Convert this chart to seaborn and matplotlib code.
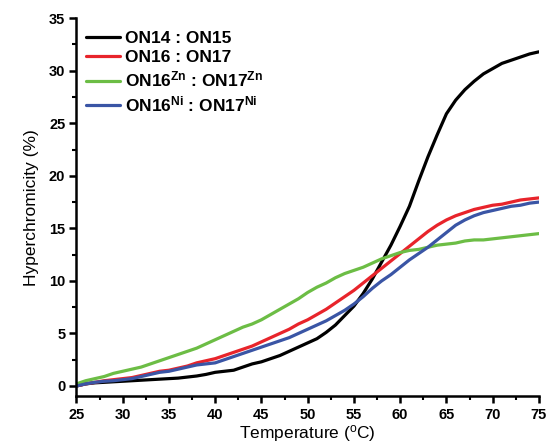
import numpy as np
import pandas as pd
import matplotlib
matplotlib.use("Agg")
import matplotlib.pyplot as plt
from matplotlib.ticker import MultipleLocator
import seaborn as sns

temperature = list(range(25, 76))

on14_on15 = [0.0, 0.2, 0.3, 0.35, 0.4, 0.45, 0.5, 0.55, 0.6, 0.65,
             0.7, 0.75, 0.85, 0.95, 1.1, 1.3, 1.4, 1.5, 1.8, 2.1,
             2.3, 2.6, 2.9, 3.3, 3.7, 4.1, 4.5, 5.1, 5.8, 6.7,
             7.6, 8.8, 10.2, 11.8, 13.4, 15.2, 17.1, 19.5, 21.8, 23.9,
             25.9, 27.2, 28.2, 29.0, 29.7, 30.2, 30.7, 31.0, 31.3, 31.6,
             31.8]
on16_on17 = [0.0, 0.2, 0.35, 0.5, 0.6, 0.7, 0.8, 1.0, 1.2, 1.4,
             1.5, 1.7, 1.9, 2.2, 2.4, 2.6, 2.9, 3.2, 3.5, 3.8,
             4.2, 4.6, 5.0, 5.4, 5.9, 6.3, 6.8, 7.3, 7.9, 8.5,
             9.1, 9.8, 10.5, 11.2, 11.9, 12.6, 13.3, 14.0, 14.7, 15.3,
             15.8, 16.2, 16.5, 16.8, 17.0, 17.2, 17.3, 17.5, 17.7, 17.8,
             17.9]
on16zn_on17zn = [0.2, 0.5, 0.7, 0.9, 1.2, 1.4, 1.6, 1.8, 2.1, 2.4,
                 2.7, 3.0, 3.3, 3.6, 4.0, 4.4, 4.8, 5.2, 5.6, 5.9,
                 6.3, 6.8, 7.3, 7.8, 8.3, 8.9, 9.4, 9.8, 10.3, 10.7,
                 11.0, 11.3, 11.7, 12.1, 12.4, 12.7, 12.9, 13.0, 13.2, 13.4,
                 13.5, 13.6, 13.8, 13.9, 13.9, 14.0, 14.1, 14.2, 14.3, 14.4,
                 14.5]
on16ni_on17ni = [0.0, 0.2, 0.35, 0.45, 0.5, 0.6, 0.7, 0.9, 1.1, 1.3,
                 1.4, 1.6, 1.8, 2.0, 2.1, 2.2, 2.5, 2.8, 3.1, 3.4,
                 3.7, 4.0, 4.3, 4.6, 5.0, 5.4, 5.8, 6.2, 6.7, 7.2,
                 7.8, 8.5, 9.3, 10.0, 10.6, 11.3, 12.0, 12.6, 13.2, 13.9,
                 14.6, 15.3, 15.8, 16.2, 16.5, 16.7, 16.9, 17.1, 17.2, 17.4,
                 17.5]

labels = [
    "ON14 : ON15",
    "ON16 : ON17",
    r"ON16$\mathregular{^{Zn}}$ : ON17$\mathregular{^{Zn}}$",
    r"ON16$\mathregular{^{Ni}}$ : ON17$\mathregular{^{Ni}}$",
]
series = [on14_on15, on16_on17, on16zn_on17zn, on16ni_on17ni]
colors = ["#000000", "#e8242b", "#6cbd45", "#3a55a5"]

df = pd.concat(
    [pd.DataFrame({"Temperature": temperature, "Hyperchromicity": vals, "Duplex": lab})
     for lab, vals in zip(labels, series)],
    ignore_index=True,
)

sns.set_style("ticks", {"axes.edgecolor": "black", "xtick.color": "black",
                        "ytick.color": "black", "text.color": "black",
                        "axes.labelcolor": "black"})
plt.rcParams["font.family"] = ["Liberation Sans", "DejaVu Sans"]

fig = plt.figure(figsize=(5.46, 4.44), dpi=100)
ax = fig.add_axes([0.140, 0.107, 0.847, 0.852])

sns.lineplot(data=df, x="Temperature", y="Hyperchromicity", hue="Duplex",
             palette=dict(zip(labels, colors)), hue_order=labels,
             linewidth=2.3, ax=ax)

ax.set_xlim(25, 75)
ax.set_ylim(-1, 35)
ax.xaxis.set_major_locator(MultipleLocator(5))
ax.xaxis.set_minor_locator(MultipleLocator(2.5))
ax.yaxis.set_major_locator(MultipleLocator(5))
ax.yaxis.set_minor_locator(MultipleLocator(2.5))
ax.set_yticks([0, 5, 10, 15, 20, 25, 30, 35])

for side in ["top", "right"]:
    ax.spines[side].set_visible(False)
for side in ["left", "bottom"]:
    ax.spines[side].set_linewidth(1.8)
    ax.spines[side].set_color("black")
ax.spines["left"].set_bounds(-1, 35)

ax.tick_params(axis="both", which="major", direction="out", length=5, width=1.8,
               labelsize=10.5, pad=3, colors="black")
ax.tick_params(axis="both", which="minor", direction="out", length=3, width=1.5,
               colors="black")
for lab in ax.get_xticklabels() + ax.get_yticklabels():
    lab.set_fontweight("bold")

ax.set_xlabel(r"Temperature ($\mathregular{^{o}}$C)", fontsize=12.5, labelpad=1)
ax.set_ylabel("Hyperchromicity (%)", fontsize=12.5, labelpad=7)

leg = ax.legend(loc="upper left", frameon=False, fontsize=12.5, handlelength=2.0,
                handletextpad=0.25, labelspacing=0.25, borderaxespad=0.0,
                bbox_to_anchor=(0.005, 0.985))
for t in leg.get_texts():
    t.set_fontweight("bold")
for line in leg.get_lines():
    line.set_linewidth(2.3)

fig.savefig("out.png", dpi=100)
